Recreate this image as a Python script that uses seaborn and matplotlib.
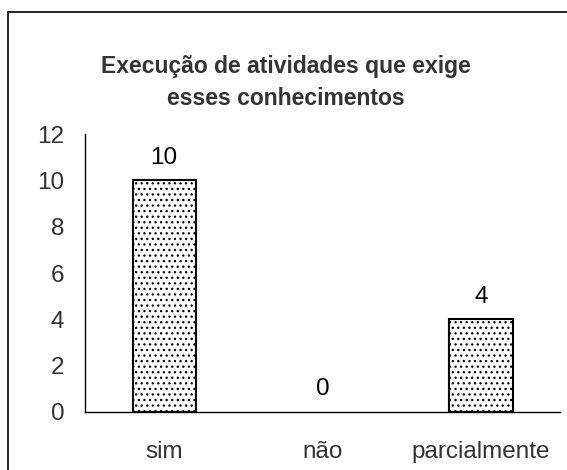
import matplotlib
matplotlib.use("Agg")
import matplotlib.pyplot as plt
import seaborn as sns
import pandas as pd
from matplotlib.lines import Line2D

# chart data
categories = ["sim", "não", "parcialmente"]
values = [10, 0, 4]
title_lines = ["Execução de atividades que exige", "esses conhecimentos"]

df = pd.DataFrame({"Resposta": categories, "Total": values})

sns.set_style("white")
plt.rcParams["font.family"] = ["Liberation Sans", "DejaVu Sans"]
plt.rcParams["hatch.linewidth"] = 0.9

W, H = 567, 470
fig = plt.figure(figsize=(W / 100, H / 100), dpi=100)
ax = fig.add_axes([85 / W, 1 - 412 / H, (560 - 85) / W, (412 - 134) / H])

sns.barplot(data=df, x="Resposta", y="Total", ax=ax, width=0.4,
            color="white", edgecolor="black", linewidth=1.5)
for bar, v in zip(ax.patches, values):
    bar.set_hatch("...")
    if v == 0:
        bar.set_linewidth(0)

for i, v in enumerate(values):
    ax.text(i, v + 0.72, str(v), ha="center", va="baseline", fontsize=17.5, color="black")

ax.set_ylim(0, 12)
ax.set_xlim(-0.5, 2.5)
ax.set_yticks(range(0, 13, 2))
ax.set_xticks([-0.5, 0.5, 1.5, 2.5], minor=False)
ax.set_xticklabels([])
ax.set_xticks([0, 1, 2], minor=True)
ax.set_xticklabels(categories, minor=True)
ax.tick_params(axis="x", which="major", direction="out", length=6, width=1, color="black")
ax.tick_params(axis="x", which="minor", length=0, pad=21, labelsize=17.5, labelcolor="#333333")
ax.tick_params(axis="y", direction="out", length=6, width=1, color="black",
               labelsize=17.5, labelcolor="#333333", pad=9)
ax.set_xlabel("")
ax.set_ylabel("")
for s in ["top", "right"]:
    ax.spines[s].set_visible(False)
for s in ["left", "bottom"]:
    ax.spines[s].set_color("black")
    ax.spines[s].set_linewidth(1)

for line, base in zip(title_lines, [73, 105]):
    fig.text(286 / W, 1 - base / H, line, ha="center", va="baseline", fontsize=16.5,
             fontweight="bold", color="#333333")

# chart-area frame (left and top edges visible in the crop)
fig.lines.append(Line2D([8 / W, 8 / W], [0, 1 - 12 / H], transform=fig.transFigure,
                        color="black", linewidth=1.2))
fig.lines.append(Line2D([8 / W, 1], [1 - 12 / H, 1 - 12 / H], transform=fig.transFigure,
                        color="black", linewidth=1.2))

fig.savefig("out.png", dpi=100)
